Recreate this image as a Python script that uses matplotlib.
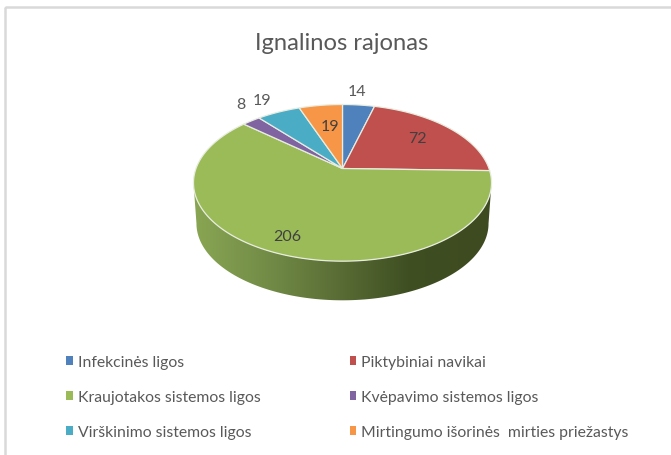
import numpy as np
import matplotlib
matplotlib.use("Agg")
import matplotlib.pyplot as plt
from matplotlib.colors import LinearSegmentedColormap
from matplotlib.patches import Polygon, Rectangle

title = "Ignalinos rajonas"
categories = ["Infekcinės ligos", "Piktybiniai navikai", "Kraujotakos sistemos ligos",
              "Kvėpavimo sistemos ligos", "Virškinimo sistemos ligos",
              "Mirtingumo išorinės  mirties priežastys"]
values = [14, 72, 206, 8, 19, 19]
colors = ["#4F81BD", "#C0504D", "#9BBB59", "#8064A2", "#4BACC6", "#F79646"]
label_xy = [(357, 92), (417, 139), (287, 237), (241, 105), (262, 101), (330, 127)]
label_colors = ["#595959", "#404040", "#404040", "#595959", "#595959", "#404040"]

plt.rcParams["font.family"] = ["Lato", "DejaVu Sans"]
fig = plt.figure(figsize=(6.71, 4.56), dpi=100)
ax = fig.add_axes([0, 0, 1, 1])
ax.set_xlim(0, 671)
ax.set_ylim(456, 0)
ax.axis("off")

# frame of the screenshot
ax.add_patch(Rectangle((5, 8), 700, 470, fill=False, ec="#D9D9D9", lw=1.8))

# perspective disc
CX, CY, A, B, K = 342.5, 169.5, 146.5, 75.7, -0.183
def project(theta, r=1.0, scale=1.0, dy=0.0):
    u, v = r * np.sin(theta), r * np.cos(theta)
    d = 1 - K * v
    return np.column_stack([CX + scale * A * u / d, CY + dy - scale * B * v / d])

# side wall
t = np.linspace(0, 2 * np.pi, 721)
top = project(t)
bot = project(t, scale=0.98, dy=41)
ti0, ti1 = top[:, 0].argmax(), top[:, 0].argmin()
bi0, bi1 = bot[:, 0].argmax(), bot[:, 0].argmin()
wall = np.vstack([top[ti0:ti1 + 1], bot[bi0:bi1 + 1][::-1]])
cmap = LinearSegmentedColormap.from_list("side", [
    (0.0, "#89A653"), (0.25, "#728C47"), (0.5, "#586B34"),
    (0.72, "#3F4F22"), (1.0, "#3E4A20")])
im = ax.imshow(np.linspace(0, 1, 256)[None, :], cmap=cmap, aspect="auto",
               extent=(193, 492, 310, 170), zorder=1)
clip = Polygon(wall, closed=True, transform=ax.transData, fc="none", ec="none")
ax.add_patch(clip)
im.set_clip_path(clip)
ax.set_xlim(0, 671)
ax.set_ylim(456, 0)

# slices
edges = np.cumsum([0] + values) / sum(values) * 2 * np.pi
for i, c in enumerate(colors):
    arc = project(np.linspace(edges[i], edges[i + 1], 200))
    pts = np.vstack([[CX, CY], arc])
    ax.add_patch(Polygon(pts, closed=True, fc=c, ec="#E8EDE0", lw=0.9, zorder=2))

# value labels
for v, (x, y), c in zip(values, label_xy, label_colors):
    ax.text(x, y, str(v), ha="center", va="center", fontsize=11.5, color=c, zorder=3)

ax.text(342, 44, title, ha="center", va="center", fontsize=17.1, color="#595959")

# legend (two columns, row-wise order as in the reference)
handles = [Rectangle((0, 0), 1, 1, fc=c, ec="none") for c in colors]
order = [0, 2, 4, 1, 3, 5]
ax.legend([handles[i] for i in order], [categories[i] for i in order], ncol=2,
          loc="upper left", bbox_to_anchor=(66 / 671, 1 - 356 / 456),
          frameon=False, fontsize=11.3, labelcolor="#595959",
          handlelength=0.42, handleheight=0.5, handletextpad=0.32,
          labelspacing=1.35, columnspacing=5.68, borderpad=0.0, borderaxespad=0.0)

fig.savefig("out.png", dpi=100)
